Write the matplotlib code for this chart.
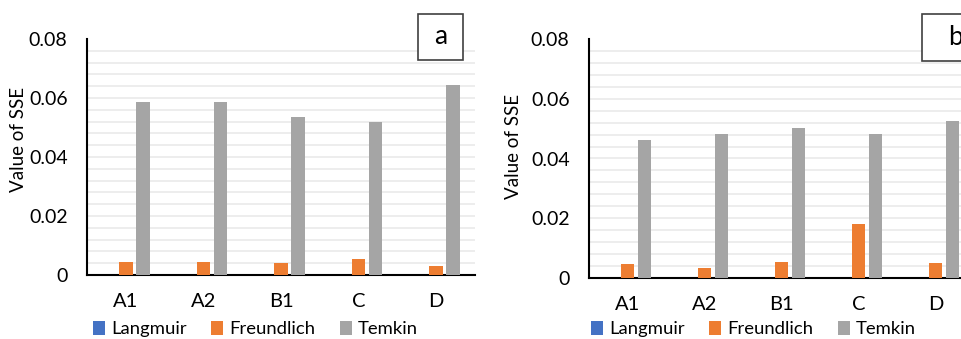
import matplotlib.pyplot as plt
import numpy as np
from matplotlib.patches import Patch, Rectangle

samples = ["A1", "A2", "B1", "C", "D"]
models = ["Langmuir", "Freundlich", "Temkin"]
colors = ["#4472C4", "#ED7D31", "#A5A5A5"]

# SSE of each isotherm fit, panel a
langmuir_a = [0.0, 0.0, 0.0, 0.0, 0.0]
freundlich_a = [0.0044, 0.0043, 0.0042, 0.0055, 0.0032]
temkin_a = [0.0588, 0.0588, 0.0535, 0.0517, 0.0645]

# SSE of each isotherm fit, panel b
langmuir_b = [0.0, 0.0, 0.0, 0.0, 0.0]
freundlich_b = [0.0046, 0.0035, 0.0053, 0.0180, 0.0050]
temkin_b = [0.0461, 0.0483, 0.0503, 0.0482, 0.0524]

W, H = 962, 339
FONT = "Lato"
plt.rcParams["font.family"] = [FONT, "DejaVu Sans"]

fig = plt.figure(figsize=(W / 100, H / 100), dpi=100)


def px_axes(x0, y_top, x1, y_bot):
    return fig.add_axes([x0 / W, 1 - y_bot / H, (x1 - x0) / W, (y_bot - y_top) / H])


def draw_panel(ax, series, tag, tag_box, ylabel_xy, legend_xy):
    x = np.arange(len(samples))
    offsets = [-0.22, 0.0, 0.22]
    for vals, off, c, name in zip(series, offsets, colors, models):
        ax.bar(x + off, vals, width=0.175, color=c, label=name, zorder=3)

    for g in np.arange(0.004, 0.0799, 0.004):
        ax.axhline(g, color="#EDEDED", linewidth=1.4, zorder=1)

    ax.set_xlim(-0.5, 4.5)
    ax.set_ylim(0, 0.08)
    ax.set_yticks([0, 0.02, 0.04, 0.06, 0.08])
    ax.set_yticklabels(["0", "0.02", "0.04", "0.06", "0.08"])
    ax.set_xticks(x)
    ax.set_xticklabels(samples)
    ax.tick_params(axis="y", length=0, pad=14, labelsize=14)
    ax.tick_params(axis="x", length=0, pad=13, labelsize=14.5)
    for side in ("top", "right"):
        ax.spines[side].set_visible(False)
    for side in ("left", "bottom"):
        ax.spines[side].set_linewidth(1.5)
        ax.spines[side].set_color("#000000")

    fig.text(ylabel_xy[0] / W, 1 - ylabel_xy[1] / H, "Value of SSE",
             rotation=90, ha="center", va="center", fontsize=13.5)

    bx0, by0, bx1, by1 = tag_box
    fig.patches.append(Rectangle((bx0 / W, 1 - by1 / H), (bx1 - bx0) / W, (by1 - by0) / H,
                                 transform=fig.transFigure, facecolor="white",
                                 edgecolor="#404040", linewidth=1.2, zorder=5))
    fig.text((bx0 + bx1) / 2 / W, 1 - (by0 + by1) / 2 / H, tag,
             ha="center", va="center", fontsize=19, zorder=6)

    handles = [Patch(facecolor=c, label=m) for c, m in zip(colors, models)]
    fig.legend(handles=handles, loc="center left",
               bbox_to_anchor=(legend_xy[0] / W, 1 - legend_xy[1] / H),
               ncol=3, frameon=False, fontsize=13.3, handlelength=0.65,
               handleheight=0.85, handletextpad=0.35, columnspacing=1.3,
               borderpad=0, borderaxespad=0)


ax_a = px_axes(87, 39, 475, 275)
draw_panel(ax_a, [langmuir_a, freundlich_a, temkin_a], "a",
           (418, 14, 463, 60), (19, 139), (93, 329))

ax_b = px_axes(589, 39, 974, 278)
draw_panel(ax_b, [langmuir_b, freundlich_b, temkin_b], "b",
           (922, 14, 990, 61), (514, 146), (591, 329))

fig.savefig("out.png", dpi=100)
